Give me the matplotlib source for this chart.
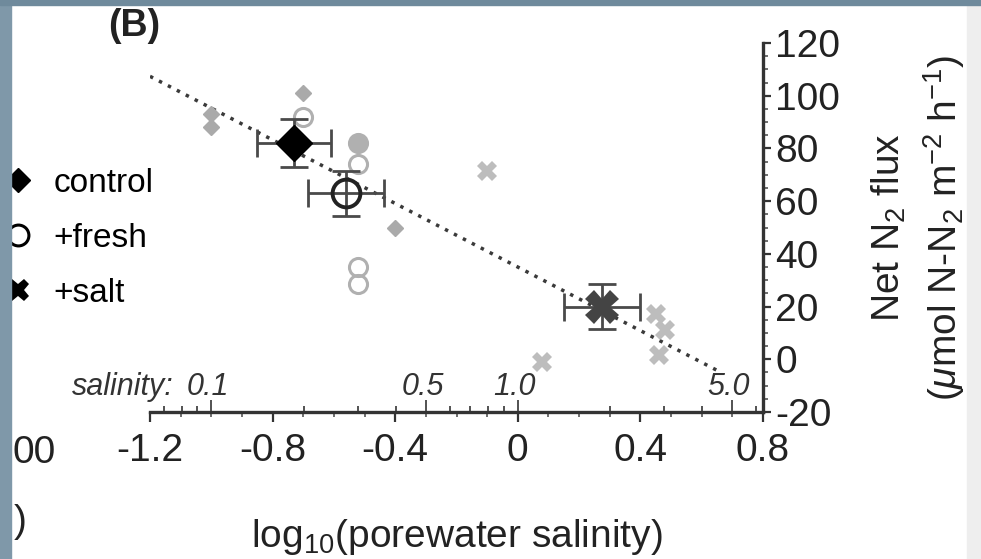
import numpy as np
import matplotlib
matplotlib.use("Agg")
import matplotlib.pyplot as plt
from matplotlib.lines import Line2D
from matplotlib.patches import Rectangle
from matplotlib.transforms import blended_transform_factory

plt.rcParams['font.family'] = ['Liberation Sans', 'DejaVu Sans']
plt.rcParams['mathtext.fontset'] = 'custom'
plt.rcParams['mathtext.rm'] = 'Liberation Sans'
plt.rcParams['mathtext.it'] = 'Liberation Sans:italic'
plt.rcParams['mathtext.bf'] = 'Liberation Sans:bold'
plt.rcParams['axes.unicode_minus'] = False

# individual cores (log10 porewater salinity, net N2 flux)
control_x = [-1.00, -1.00, -0.70, -0.40]
control_y = [93, 88, 101, 50]
fresh_x = [-0.70, -0.52, -0.52, -0.52, -0.52]
fresh_y = [92, 82, 74, 35, 28.5]
fresh_lleno = [False, True, False, False, False]
salt_x = [-0.10, 0.08, 0.45, 0.48, 0.46]
salt_y = [71.6, -1, 17, 11.3, 1.7]

# treatment means +- error
medias_x = [-0.73, -0.56, 0.275]
medias_y = [82, 63, 20]
err_x = [0.12, 0.125, 0.123]
err_y = [9, 8.6, 8.6]

# regression line
ordenada = 35.0
pendiente = -60.3
recta_x = [-1.2, 0.65]

# salinity scale on the x axis
sal_mayores = [0.1, 0.5, 1.0, 5.0]
sal_etiquetas = ['0.1', '0.5', '1.0', '5.0']
sal_menores = [0.07, 0.08, 0.09, 0.2, 0.3, 0.4, 0.6, 0.7, 0.8, 0.9, 2, 3, 4, 6]

x_ticks = [-1.2, -0.8, -0.4, 0, 0.4, 0.8]
x_etiquetas = ['-1.2', '-0.8', '-0.4', '0', '0.4', '0.8']
y_ticks = [-20, 0, 20, 40, 60, 80, 100, 120]

gris_oscuro = '#444444'

fig = plt.figure(figsize=(9.81, 5.59), dpi=100)
ax = fig.add_axes([150/981, 1-412/559, (763-150)/981, (412-43)/559])

# regression (dotted)
rx = np.array(recta_x)
ax.plot(rx, ordenada + pendiente*rx, color='#3a3a3a', lw=2.5,
        linestyle=(0, (1, 1.9)), zorder=2)

# individual cores
ax.plot(control_x, control_y, 'D', color='#aaaaaa', ms=8, zorder=3)
for xi, yi, ll in zip(fresh_x, fresh_y, fresh_lleno):
    ax.plot(xi, yi, 'o', mfc='#b0b0b0' if ll else 'none', mec='#b0b0b0',
            mew=2.2, ms=13, zorder=3)
ax.plot(salt_x, salt_y, 'X', color='#bdbdbd', ms=14, mew=0, zorder=3)

# means with error bars
ax.errorbar(medias_x, medias_y, xerr=err_x, yerr=err_y, fmt='none',
            ecolor='#4a4a4a', elinewidth=2, capsize=10, capthick=2, zorder=4)
ax.plot(medias_x[0], medias_y[0], 'D', color='black', ms=18, zorder=5)
ax.plot(medias_x[1], medias_y[1], 'o', mfc='none', mec='#222222', mew=2.8,
        ms=20, zorder=5)
ax.plot(medias_x[2], medias_y[2], 'X', color=gris_oscuro, ms=24, mew=0, zorder=5)

ax.set_xlim(-1.2, 0.8)
ax.set_ylim(-20, 120)
for lado in ['left', 'top']:
    ax.spines[lado].set_visible(False)
for lado in ['bottom', 'right']:
    ax.spines[lado].set_linewidth(2.4)
    ax.spines[lado].set_color('#333333')

ax.set_xticks(x_ticks, labels=x_etiquetas)
ax.set_xticks(np.arange(-1.1, 0.8, 0.1), minor=True)
ax.yaxis.tick_right()
ax.set_yticks(y_ticks)
ax.set_yticks(np.arange(-20, 121, 5), minor=True)
ax.tick_params(axis='both', which='major', labelsize=28, direction='out',
               length=7, width=1.6, color='#333333', pad=8, labelcolor='#222222')
ax.tick_params(axis='both', which='minor', direction='out', length=3.5,
               width=1.2, color='#555555')
ax.tick_params(axis='y', which='major', length=6, pad=3)

# salinity ticks pointing up into the plot
sec = ax.secondary_xaxis('bottom', functions=(lambda v: 10**v, np.log10))
sec.spines['bottom'].set_visible(False)
sec.set_xticks(sal_mayores)
sec.set_xticks(sal_menores, minor=True)
sec.tick_params(which='both', direction='in', labelbottom=False, width=1.3,
                color='#444444')
sec.tick_params(which='major', length=9)
sec.tick_params(which='minor', length=4.5)

trans = blended_transform_factory(ax.transData, ax.transAxes)
for s, et in zip(sal_mayores, sal_etiquetas):
    ax.text(np.log10(s) - 0.01, 0.045, et, transform=trans, ha='center',
            va='baseline', fontsize=22, style='italic', color='#333333')
ax.text(-0.127, 0.045, 'salinity:', transform=ax.transAxes, ha='left',
        va='baseline', fontsize=22, style='italic', color='#333333')

ax.set_xlabel('log$_{10}$(porewater salinity)', fontsize=28, labelpad=35,
              color='#222222')
ax.text(1.205, 0.5, 'Net N$_2$ flux', transform=ax.transAxes, rotation=90,
        ha='center', va='center', fontsize=28, color='#222222')
ax.text(1.295, 0.5, r'($\mu$mol N-N$_2$ m$^{-2}$ h$^{-1}$)', transform=ax.transAxes,
        rotation=90, ha='center', va='center', fontsize=28, color='#222222')

fig.text(108/981, 1-26/559, '(B)', fontsize=27, fontweight='bold',
         ha='left', va='center', color='#222222')

# legend
manejadores = [
    Line2D([], [], marker='D', color='black', ls='none', ms=12),
    Line2D([], [], marker='o', mfc='white', mec='black', mew=2.2, ls='none', ms=15),
    Line2D([], [], marker='X', color='black', mew=0, ls='none', ms=16),
]
fig.legend(manejadores, ['control', '+fresh', '+salt'], loc='upper left',
           bbox_to_anchor=(1.5/981, 1-168/559), frameon=False, fontsize=24,
           borderpad=0, borderaxespad=0, handlelength=1.0, handletextpad=0.55,
           labelspacing=0.72)

# neighbouring panel edge
fig.text(13/981, 1-453/559, '00', fontsize=28, ha='left', va='center',
         color='#222222')
fig.text(14/981, 1-522/559, ')', fontsize=28, ha='left', va='center',
         color='#222222')
fig.add_artist(Rectangle((0, 0), 11/981, 1, transform=fig.transFigure,
                         color='#7f98a9', zorder=20))
fig.add_artist(Rectangle((0, 1-5/559), 1, 5/559, transform=fig.transFigure,
                         color='#6f8a9c', zorder=20))
fig.add_artist(Rectangle((967/981, 0), 14/981, 1, transform=fig.transFigure,
                         color='#eeeeee', zorder=1))

fig.savefig('out.png', dpi=100)
